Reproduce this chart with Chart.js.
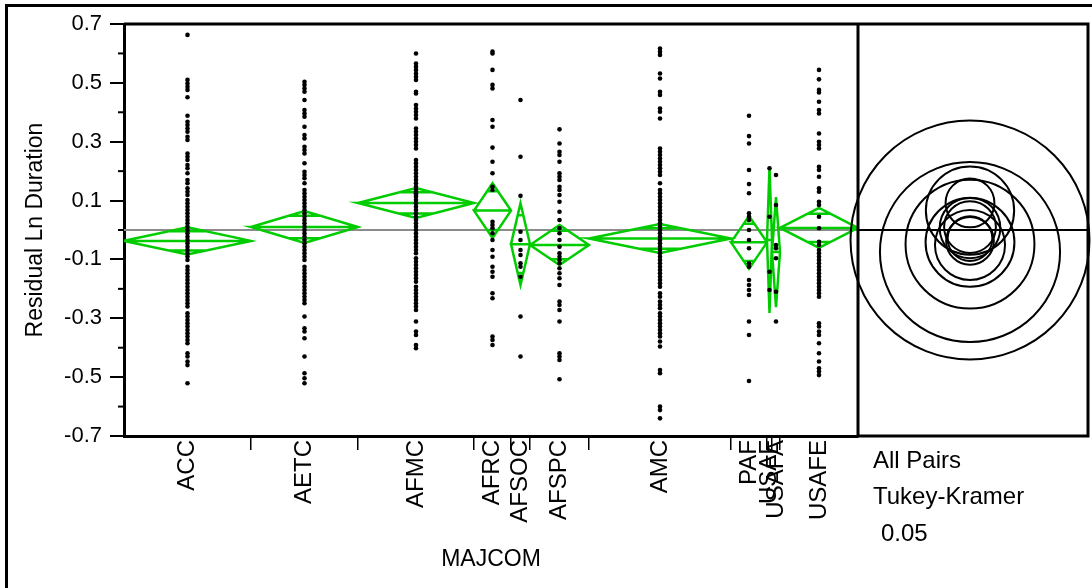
<!DOCTYPE html>
<html>
<head>
<meta charset="utf-8">
<title>Residual Ln Duration by MAJCOM</title>
<script src="https://cdn.jsdelivr.net/npm/chart.js@4.4.1/dist/chart.umd.min.js"></script>
<style>
  html, body { margin: 0; padding: 0; background: #fff; }
  #wrap { position: relative; width: 1092px; height: 588px; }
</style>
</head>
<body>
<div id="wrap"><canvas id="oneway" width="1092" height="588"></canvas></div>
<script>
// groups and their sizes (width of each group on the x axis is proportional to n)
var majcoms = ['ACC', 'AETC', 'AFMC', 'AFRC', 'AFSOC', 'AFSPC', 'AMC', 'PAF', 'USAF', 'USAFA', 'USAFE'];
var groupN = [127, 107, 116, 37, 19, 59, 142, 36, 5, 8, 78];

// means diamonds + comparison circles
var groupMeans   = [-0.037, 0.010, 0.092, 0.066, -0.048, -0.051, -0.029, -0.042, -0.034, -0.075, 0.007];
var ciHalf       = [0.046, 0.054, 0.051, 0.093, 0.139, 0.068, 0.049, 0.090, 0.248, 0.187, 0.068];
var circleRadius = [0.081, 0.088, 0.083, 0.150, 0.219, 0.119, 0.076, 0.151, 0.406, 0.306, 0.103];
var grandMean = 0;

// y axis
var yMin = -0.7, yMax = 0.7, yStep = 0.1;

// residuals per group
var accVals = [0.663, 0.51, 0.498, 0.487, 0.476, 0.451, 0.388, 0.368, 0.357, 0.345, 0.334, 0.317, 0.306,
  0.26, 0.249, 0.238, 0.221, 0.21, 0.193, 0.17, 0.159, 0.142, 0.13, 0.119, 0.102, 0.091, 0.079, 0.068,
  0.057, 0.045, 0.034, 0.023, 0.011, 0.0, -0.011, -0.023, -0.034, -0.045, -0.057, -0.068, -0.079, -0.09,
  -0.102, -0.125, -0.136, -0.147, -0.159, -0.17, -0.181, -0.193, -0.204, -0.215, -0.227, -0.238, -0.249,
  -0.26, -0.283, -0.294, -0.306, -0.317, -0.328, -0.34, -0.351, -0.362, -0.374, -0.385, -0.419, -0.43,
  -0.447, -0.459, -0.521];
var aetcVals = [0.504, 0.493, 0.481, 0.47, 0.442, 0.408, 0.396, 0.385, 0.351, 0.323, 0.311, 0.283, 0.272,
  0.26, 0.227, 0.198, 0.187, 0.176, 0.159, 0.136, 0.125, 0.113, 0.102, 0.091, 0.079, 0.068, 0.057, 0.045,
  0.034, 0.023, 0.011, 0.0, -0.011, -0.023, -0.034, -0.045, -0.057, -0.068, -0.079, -0.091, -0.102,
  -0.125, -0.136, -0.147, -0.159, -0.17, -0.181, -0.193, -0.204, -0.215, -0.227, -0.238, -0.249, -0.294,
  -0.334, -0.345, -0.368, -0.43, -0.487, -0.504, -0.521];
var afmcVals = [0.6, 0.566, 0.555, 0.544, 0.532, 0.521, 0.51, 0.47, 0.464, 0.425, 0.413, 0.402, 0.391,
  0.379, 0.345, 0.334, 0.323, 0.311, 0.3, 0.289, 0.277, 0.238, 0.227, 0.215, 0.204, 0.193, 0.181, 0.17,
  0.159, 0.147, 0.136, 0.13, 0.125, 0.119, 0.113, 0.102, 0.091, 0.079, 0.068, 0.057, 0.045, 0.034, 0.023,
  0.011, 0.0, -0.011, -0.023, -0.034, -0.045, -0.057, -0.068, -0.079, -0.096, -0.108, -0.119, -0.13,
  -0.142, -0.153, -0.164, -0.176, -0.193, -0.204, -0.215, -0.227, -0.238, -0.249, -0.26, -0.272, -0.311,
  -0.345, -0.357, -0.391, -0.402];
var afrcVals = [0.606, 0.6, 0.544, 0.493, 0.481, 0.374, 0.351, 0.28, 0.232, 0.193, 0.147, 0.136, 0.028,
  0.017, 0.006, -0.011, -0.034, -0.068, -0.091, -0.125, -0.142, -0.159, -0.215, -0.232, -0.362, -0.374,
  -0.391];
var afsocVals = [0.442, 0.249, 0.116, -0.006, -0.034, -0.068, -0.085, -0.113, -0.125, -0.159, -0.294, -0.43];
var afspcVals = [0.342, 0.294, 0.266, 0.255, 0.232, 0.193, 0.181, 0.17, 0.147, 0.136, 0.119, 0.096, 0.062,
  0.034, 0.006, -0.011, -0.034, -0.057, -0.079, -0.091, -0.102, -0.113, -0.13, -0.147, -0.164, -0.187,
  -0.243, -0.255, -0.272, -0.311, -0.419, -0.43, -0.442, -0.507];
var amcVals = [0.617, 0.606, 0.595, 0.532, 0.515, 0.47, 0.459, 0.413, 0.402, 0.379, 0.277, 0.266, 0.255,
  0.243, 0.232, 0.221, 0.21, 0.198, 0.187, 0.159, 0.136, 0.125, 0.113, 0.102, 0.091, 0.079, 0.068, 0.057,
  0.045, 0.034, 0.023, 0.011, 0.0, -0.011, -0.023, -0.034, -0.045, -0.057, -0.068, -0.079, -0.091, -0.102,
  -0.113, -0.125, -0.136, -0.147, -0.159, -0.17, -0.181, -0.193, -0.215, -0.227, -0.243, -0.255, -0.266,
  -0.283, -0.294, -0.306, -0.317, -0.328, -0.34, -0.351, -0.362, -0.379, -0.396, -0.476, -0.487, -0.6,
  -0.612, -0.64];
var pafVals = [0.388, 0.319, 0.294, 0.204, 0.156, 0.125, 0.057, 0.045, 0.034, 0.0, -0.034, -0.062, -0.113,
  -0.125, -0.17, -0.187, -0.204, -0.221, -0.311, -0.357, -0.513];
var usafVals = [0.21, 0.045, -0.142, -0.204];
var usafaVals = [0.187, 0.085, -0.051, -0.062, -0.096, -0.21, -0.311];
var usafeVals = [0.544, 0.512, 0.476, 0.467, 0.436, 0.408, 0.396, 0.328, 0.3, 0.289, 0.277, 0.215, 0.204,
  0.181, 0.142, 0.13, 0.096, 0.085, 0.045, 0.006, -0.04, -0.051, -0.068, -0.079, -0.091, -0.102, -0.113,
  -0.125, -0.136, -0.147, -0.159, -0.17, -0.181, -0.193, -0.204, -0.215, -0.227, -0.317, -0.328, -0.345,
  -0.357, -0.385, -0.419, -0.447, -0.47, -0.481, -0.493];

var groupValues = [accVals, aetcVals, afmcVals, afrcVals, afsocVals, afspcVals, amcVals, pafVals,
  usafVals, usafaVals, usafeVals];

// group positions along x
var starts = [], centers = [], pos = 0;
for (var i = 0; i < groupN.length; i++) {
	starts.push(pos);
	centers.push(pos + groupN[i] / 2);
	pos += groupN[i];
}
var totalN = pos;

var pointData = [];
groupValues.forEach(function (vals, g) {
	vals.forEach(function (v) { pointData.push({ x: centers[g], y: v }); });
});

// diamonds: outline, mean line and overlap marks, broken by null gaps
var diamondData = [];
for (var g = 0; g < groupN.length; g++) {
	var x0 = starts[g], x1 = starts[g] + groupN[g], xc = centers[g];
	var m = groupMeans[g], h = ciHalf[g];
	var d = h / Math.SQRT2, hw = groupN[g] / 2 * (1 - 1 / Math.SQRT2);
	diamondData.push(
		{ x: x0, y: m }, { x: xc, y: m + h }, { x: x1, y: m }, { x: xc, y: m - h }, { x: x0, y: m }, { x: x1, y: m },
		{ x: x1, y: null },
		{ x: xc - hw, y: m + d }, { x: xc + hw, y: m + d }, { x: xc, y: null },
		{ x: xc - hw, y: m - d }, { x: xc + hw, y: m - d }, { x: xc, y: null }
	);
}

var panelPlugin = {
	id: 'panel',
	afterDraw: function (chart) {
		var ctx = chart.ctx, a = chart.chartArea, ys = chart.scales.y;
		var panelLeft = a.right, panelRight = 1088;
		ctx.save();
		ctx.strokeStyle = '#000';

		// outer frame
		ctx.lineWidth = 3;
		ctx.beginPath();
		ctx.moveTo(6.5, 588); ctx.lineTo(6.5, 5.5); ctx.lineTo(1092, 5.5);
		ctx.stroke();

		// minor y ticks
		ctx.lineWidth = 2;
		ys.ticks.forEach(function (t) {
			if (t.label === '') {
				var py = ys.getPixelForValue(t.value);
				ctx.beginPath(); ctx.moveTo(a.left - 6, py); ctx.lineTo(a.left, py); ctx.stroke();
			}
		});

		// top border, divider and circle panel frame
		ctx.lineWidth = 3;
		ctx.beginPath();
		ctx.moveTo(a.left, a.top); ctx.lineTo(panelRight, a.top);
		ctx.lineTo(panelRight, a.bottom); ctx.lineTo(panelLeft, a.bottom);
		ctx.moveTo(panelLeft, a.top); ctx.lineTo(panelLeft, a.bottom);
		ctx.stroke();

		// grand mean line across the circle panel
		var gy = ys.getPixelForValue(grandMean);
		ctx.lineWidth = 2;
		ctx.beginPath(); ctx.moveTo(panelLeft, gy); ctx.lineTo(panelRight, gy); ctx.stroke();

		// comparison circles
		var cx = panelLeft + 112;
		for (var k = 0; k < groupMeans.length; k++) {
			var cy = ys.getPixelForValue(groupMeans[k]);
			var r = Math.abs(ys.getPixelForValue(groupMeans[k] + circleRadius[k]) - cy);
			ctx.beginPath(); ctx.arc(cx, cy, r, 0, Math.PI * 2); ctx.stroke();
		}

		// legend text under the circles
		ctx.fillStyle = '#000';
		ctx.font = '24px Arial, "Liberation Sans", sans-serif';
		ctx.textAlign = 'left';
		ctx.textBaseline = 'alphabetic';
		ctx.fillText('All Pairs', panelLeft + 15, 468);
		ctx.fillText('Tukey-Kramer', panelLeft + 15, 504);
		ctx.fillText('0.05', panelLeft + 23, 541);
		ctx.restore();
	}
};

Chart.defaults.font.family = 'Arial, "Liberation Sans", sans-serif';
Chart.defaults.color = '#000';

var onewayChart = new Chart(document.getElementById('oneway'), {
	type: 'line',
	data: {
		datasets: [
			{
				label: 'Residuals',
				data: pointData,
				showLine: false,
				pointRadius: 2.3,
				pointBackgroundColor: '#000',
				pointBorderWidth: 0,
				order: 0
			},
			{
				label: 'Means diamonds',
				data: diamondData,
				borderColor: '#00cc00',
				borderWidth: 2.5,
				pointRadius: 0,
				tension: 0,
				spanGaps: false,
				order: 1
			},
			{
				label: 'Grand mean',
				data: [{ x: 0, y: grandMean }, { x: totalN, y: grandMean }],
				borderColor: '#8c8c8c',
				borderWidth: 2,
				pointRadius: 0,
				order: 2
			}
		]
	},
	options: {
		responsive: false,
		animation: false,
		devicePixelRatio: 1,
		layout: { padding: { left: 0, right: 234, top: 24, bottom: 0 } },
		plugins: {
			legend: { display: false },
			tooltip: { enabled: false }
		},
		scales: {
			x: {
				type: 'linear',
				min: 0,
				max: totalN,
				afterFit: function (s) { s.height = 152; },
				afterBuildTicks: function (s) {
					var t = [];
					for (var i = 0; i < groupN.length; i++) {
						if (i > 0) t.push({ value: starts[i] });
						t.push({ value: centers[i] });
					}
					s.ticks = t;
				},
				border: { display: true, color: '#000', width: 3 },
				grid: {
					drawOnChartArea: false,
					tickLength: 14,
					lineWidth: 1.5,
					color: function (c) { return c.tick && c.tick.label === '' ? '#000' : 'rgba(0,0,0,0)'; }
				},
				ticks: {
					autoSkip: false,
					minRotation: 90,
					maxRotation: 90,
					padding: -10,
					font: { size: 24 },
					callback: function (v) {
						var i = centers.indexOf(v);
						return i >= 0 ? majcoms[i] : '';
					}
				},
				title: {
					display: true,
					text: 'MAJCOM',
					font: { size: 23 },
					padding: { top: 0, bottom: 15 }
				}
			},
			y: {
				min: yMin,
				max: yMax,
				afterFit: function (s) { s.width = 124; },
				border: { display: true, color: '#000', width: 3 },
				grid: {
					drawOnChartArea: false,
					tickLength: 14,
					lineWidth: 2,
					color: function (c) { return c.tick && c.tick.label !== '' ? '#000' : 'rgba(0,0,0,0)'; }
				},
				ticks: {
					stepSize: yStep,
					autoSkip: false,
					padding: 8,
					font: { size: 22 },
					callback: function (v) {
						var k = Math.round(v * 10);
						return Math.abs(k) % 2 === 1 ? (k / 10).toFixed(1) : '';
					}
				},
				title: {
					display: true,
					text: 'Residual Ln Duration',
					font: { size: 23 },
					padding: { top: 22, bottom: 0 }
				}
			}
		}
	},
	plugins: [panelPlugin]
});
</script>
</body>
</html>
